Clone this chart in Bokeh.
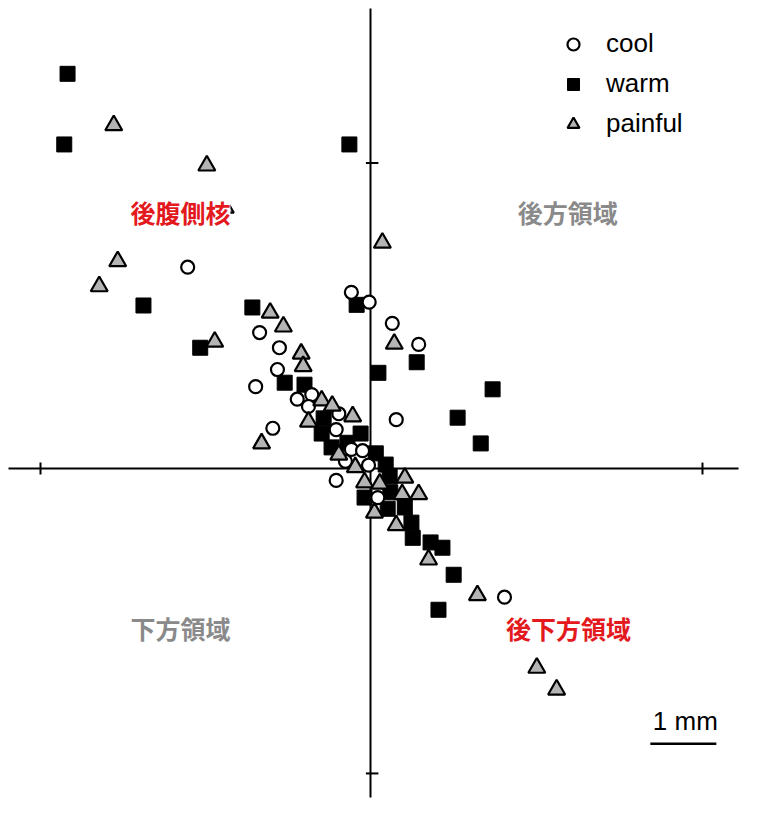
from bokeh.plotting import figure
from bokeh.models import Range1d, Label, Legend, LegendItem
from bokeh.embed import file_html
from bokeh.resources import INLINE

# ---- data (mm, origin at axis crossing) ----
cool_x = [-2.77, -0.29, -0.02, -1.68, -1.38, -1.41, -1.74, -0.89, -1.11, -0.94, -0.48, -1.48,
          -0.52, -0.29, -0.12, -0.38, -0.03, -0.52, 0.11, 0.33, 0.73, 0.39, 2.03]
cool_y = [3.05, 2.67, 2.52, 2.06, 1.83, 1.50, 1.24, 1.12, 1.05, 0.94, 0.83, 0.61,
          0.59, 0.29, 0.27, 0.11, 0.05, -0.18, -0.44, 2.20, 1.88, 0.74, -1.95]

warm_x = [-4.59, -4.64, -0.32, -3.44, -1.79, -0.21, -2.58, 0.70, 0.12, -1.30, -1.00, 1.85,
          1.32, 1.67, -0.71, -0.74, -0.15, -0.35, -0.59, 0.08, 0.23, 0.29, -0.09, 0.30,
          0.26, 0.52, 0.62, 0.64, 0.91, 1.09, 1.26, 1.03]
warm_y = [5.98, 4.91, 4.91, 2.47, 2.44, 2.48, 1.83, 1.61, 1.45, 1.30, 1.27, 1.20,
          0.77, 0.38, 0.76, 0.53, 0.53, 0.39, 0.32, 0.23, 0.06, -0.12, -0.44, -0.36,
          -0.61, -0.59, -0.82, -1.05, -1.12, -1.20, -1.61, -2.14]

painful_x = [-3.89, -2.48, -2.20, 0.18, -3.83, -4.11, -1.52, -1.32, -2.36, 0.36, -1.05, -1.02,
             -0.74, -0.58, -0.27, -0.94, -1.65, -0.48, -0.23, 0.52, -0.09, 0.14, 0.48, 0.73,
             0.06, 0.39, 0.88, 1.62, 2.52, 2.82]
painful_y = [5.20, 4.59, 3.95, 3.42, 3.14, 2.76, 2.36, 2.15, 1.92, 1.89, 1.74, 1.55,
             1.03, 0.95, 0.79, 0.71, 0.38, 0.21, 0.02, -0.14, -0.21, -0.23, -0.39, -0.39,
             -0.67, -0.86, -1.38, -1.92, -3.02, -3.35]

region_labels = ["後腹側核", "後方領域", "下方領域", "後下方領域"]
region_colors = ["#e3191e", "#8a8a8a", "#8a8a8a", "#e3191e"]
series_names = ["cool", "warm", "painful"]
scale_label = "1 mm"
scale_length = 1.0

W, H = 780, 827
p = figure(width=W, height=H, output_backend="svg", toolbar_location=None,
           x_range=Range1d(-5.606, 6.212), y_range=Range1d(-5.439, 7.091),
           min_border=0, outline_line_color=None)
p.axis.visible = False
p.grid.visible = False
p.background_fill_color = "white"

# axes through origin
p.segment(x0=[-5.485, 0.0], y0=[0.0, 6.97], x1=[5.576, 0.0], y1=[0.0, -4.985],
          line_color="black", line_width=2)
# ticks
p.segment(x0=[-5.0, 5.03], y0=[-0.09, -0.09], x1=[-5.0, 5.03], y1=[0.09, 0.09],
          line_color="black", line_width=2)
p.segment(x0=[-0.07, -0.07], y0=[4.63, -4.62], x1=[0.12, 0.12], y1=[4.63, -4.62],
          line_color="black", line_width=2)

r_warm = p.scatter(warm_x, warm_y, marker="square", size=15, fill_color="black",
                   line_color="black", line_width=1)
r_cool = p.scatter(cool_x, cool_y, marker="circle", size=13, fill_color="white",
                   line_color="black", line_width=2.2)
r_pain = p.scatter(painful_x, painful_y, marker="triangle", size=17, fill_color="#b4b4b4",
                   line_color="black", line_width=2.2)

# region labels
pos = [(-2.88, 3.89), (2.99, 3.89), (-2.88, -2.42), (3.0, -2.42)]
for (lx, ly), t, c in zip(pos, region_labels, region_colors):
    p.add_layout(Label(x=lx, y=ly, text=t, text_color=c, text_font="Noto Sans CJK JP",
                       text_font_style="bold", text_font_size="25px", text_align="center",
                       text_baseline="middle",
                       background_fill_color="white" if t == region_labels[0] else None,
                       padding=0))

# scale bar
sb_x0, sb_y = 4.24, -4.17
p.segment(x0=[sb_x0], y0=[sb_y], x1=[sb_x0 + scale_length], y1=[sb_y],
          line_color="black", line_width=2.5)
p.add_layout(Label(x=sb_x0 + scale_length / 2 + 0.03, y=-3.83, text=scale_label,
                   text_font="Liberation Sans", text_font_size="26px",
                   text_align="center", text_baseline="alphabetic", text_color="black"))

legend = Legend(items=[LegendItem(label=series_names[0], renderers=[r_cool]),
                       LegendItem(label=series_names[1], renderers=[r_warm]),
                       LegendItem(label=series_names[2], renderers=[r_pain])],
                location=(558, 688), padding=0, spacing=9, glyph_width=30, glyph_height=30,
                label_height=30, label_standoff=18, label_text_font="Liberation Sans",
                label_text_font_size="26px", label_text_color="black", border_line_color=None,
                background_fill_alpha=0, label_text_baseline="middle")
p.add_layout(legend)

open("out.html", "w").write(file_html(p, INLINE))
